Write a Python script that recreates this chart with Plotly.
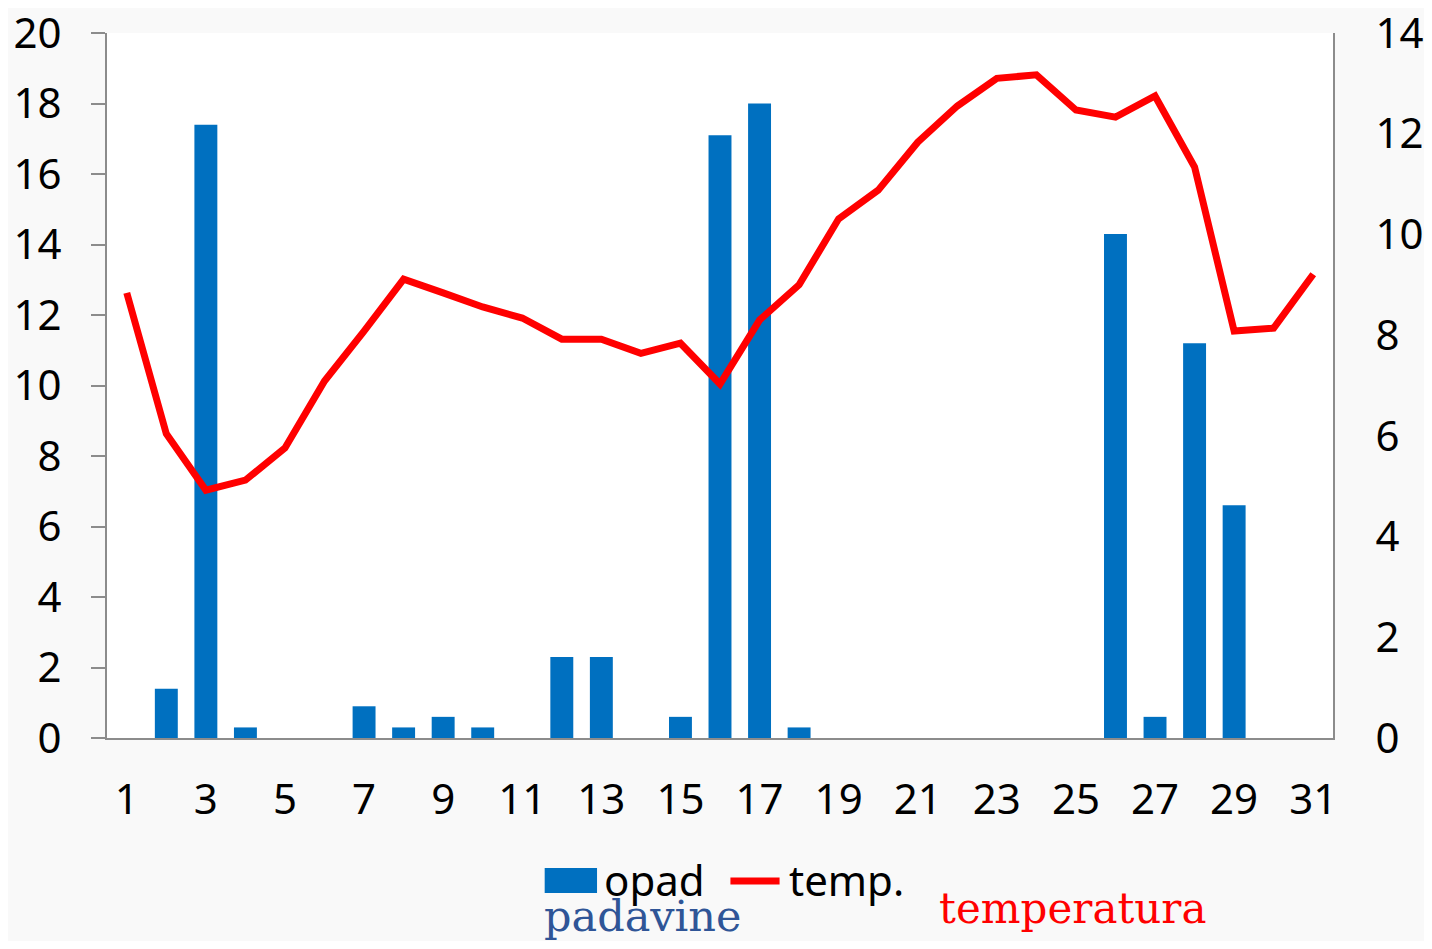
import plotly.graph_objects as go

days = list(range(1, 32))
opad = [0, 1.4, 17.4, 0.3, 0, 0, 0.9, 0.3, 0.6, 0.3, 0, 2.3, 2.3, 0, 0.6, 17.1,
        18.0, 0.3, 0, 0, 0, 0, 0, 0, 0, 14.3, 0.6, 11.2, 6.6, 0, 0]
temp = [8.84, 6.04, 4.92, 5.12, 5.76, 7.09, 8.08, 9.11, 8.84, 8.56, 8.34, 7.92,
        7.92, 7.64, 7.84, 7.03, 8.30, 9.0, 10.31, 10.88, 11.83, 12.55, 13.1,
        13.17, 12.47, 12.33, 12.75, 11.34, 8.08, 8.14, 9.21]
x_ticks = list(range(1, 32, 2))
left_ticks = list(range(0, 21, 2))
right_ticks = list(range(0, 15, 2))

BLUE = "#0070c0"
RED = "#ff0000"
FONT = "Noto Sans"
FS = 42

fig = go.Figure()
fig.add_trace(go.Bar(x=days, y=opad, name="opad", marker=dict(color=BLUE, line=dict(width=0)),
                     showlegend=False))
fig.add_trace(go.Scatter(x=days, y=temp, name="temp.", yaxis="y2", mode="lines",
                         line=dict(color=RED, width=7), showlegend=False))

fig.update_layout(
    width=1416, height=933,
    margin=dict(l=99, r=91, t=25, b=203, autoexpand=False),
    paper_bgcolor="#f9f9f9", plot_bgcolor="#ffffff",
    bargap=0.42,
    font=dict(family=FONT, size=FS, color="#000000"),
    xaxis=dict(range=[0.5, 31.5], tickvals=x_ticks, showgrid=False, zeroline=False,
               showline=True, linecolor="#8c8c8c", linewidth=2, ticks="",
               ticklabelstandoff=24, tickfont=dict(size=FS)),
    yaxis=dict(range=[0, 20], tickvals=left_ticks, showgrid=False, zeroline=False,
               showline=True, linecolor="#8c8c8c", linewidth=2, ticks="outside",
               ticklen=14, tickcolor="#8c8c8c", tickwidth=2, ticklabelstandoff=21,
               ticklabeloverflow="allow", tickfont=dict(size=FS)),
    yaxis2=dict(range=[0, 14], tickvals=right_ticks, overlaying="y", side="right",
                showgrid=False, zeroline=False, showline=True, linecolor="#8c8c8c",
                linewidth=2, ticks="", ticklabelstandoff=32, ticklabeloverflow="allow",
                tickfont=dict(size=FS)),
    showlegend=False,
)

# manual legend (paper coordinates)
fig.add_shape(type="rect", xref="paper", yref="paper", x0=0.357, x1=0.3997,
              y0=-0.2199, y1=-0.1844, fillcolor=BLUE, line=dict(width=0))
fig.add_annotation(text="opad", xref="paper", yref="paper", x=0.4035, y=-0.201,
                   xanchor="left", yanchor="middle", showarrow=False,
                   font=dict(family=FONT, size=FS, color="#000000"))
fig.add_shape(type="line", xref="paper", yref="paper", x0=0.5085, x1=0.5486,
              y0=-0.2028, y1=-0.2028, line=dict(color=RED, width=7))
fig.add_annotation(text="temp.", xref="paper", yref="paper", x=0.5545, y=-0.201,
                   xanchor="left", yanchor="middle", showarrow=False,
                   font=dict(family=FONT, size=FS, color="#000000"))

fig.add_annotation(text="padavine", xref="paper", yref="paper", x=0.355, y=-0.291,
                   xanchor="left", yanchor="bottom", showarrow=False,
                   font=dict(family="DejaVu Serif", size=43, color="#2f5597"))
fig.add_annotation(text="temperatura", xref="paper", yref="paper", x=0.677, y=-0.242,
                   xanchor="left", yanchor="middle", showarrow=False,
                   font=dict(family="DejaVu Serif", size=42, color=RED))
fig.write_html("out.html")
